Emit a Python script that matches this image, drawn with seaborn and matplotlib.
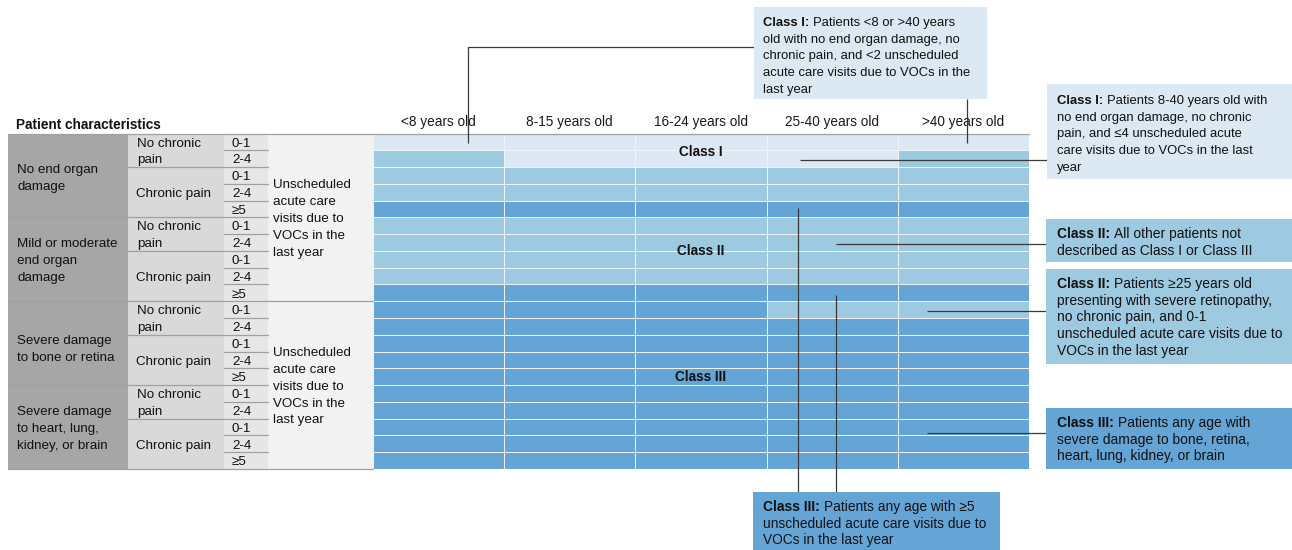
import numpy as np
import pandas as pd
import matplotlib
matplotlib.use("Agg")
import matplotlib.pyplot as plt
from matplotlib.colors import ListedColormap
from matplotlib.patches import Rectangle
import seaborn as sns

# ---------------- data ----------------
age_groups = ['<8 years old', '8-15 years old', '16-24 years old', '25-40 years old', '>40 years old']
organ_groups = ['No end organ\ndamage', 'Mild or moderate\nend organ\ndamage',
                'Severe damage\nto bone or retina', 'Severe damage\nto heart, lung,\nkidney, or brain']
pain_groups = ['No chronic\npain', 'Chronic pain']
visit_counts_no_pain = ['0-1', '2-4']
visit_counts_pain = ['0-1', '2-4', '\u22655']
visits_label = 'Unscheduled\nacute care\nvisits due to\nVOCs in the\nlast year'
class_names = ['Class I', 'Class II', 'Class III']

# risk class (1, 2, 3) per row (organ x pain x visits) and per age group
class_matrix = [
    [1, 1, 1, 1, 1],
    [2, 1, 1, 1, 2],
    [2, 2, 2, 2, 2],
    [2, 2, 2, 2, 2],
    [3, 3, 3, 3, 3],
    [2, 2, 2, 2, 2],
    [2, 2, 2, 2, 2],
    [2, 2, 2, 2, 2],
    [2, 2, 2, 2, 2],
    [3, 3, 3, 3, 3],
    [3, 3, 3, 2, 2],
    [3, 3, 3, 3, 3],
    [3, 3, 3, 3, 3],
    [3, 3, 3, 3, 3],
    [3, 3, 3, 3, 3],
    [3, 3, 3, 3, 3],
    [3, 3, 3, 3, 3],
    [3, 3, 3, 3, 3],
    [3, 3, 3, 3, 3],
    [3, 3, 3, 3, 3],
]

note_bold = ['Class I:', 'Class I:', 'Class II:', 'Class II:', 'Class III:', 'Class III:']
note_lines = [
    ['Patients <8 or >40 years', 'old with no end organ damage, no', 'chronic pain, and <2 unscheduled',
     'acute care visits due to VOCs in the', 'last year'],
    ['Patients 8-40 years old with', 'no end organ damage, no chronic', 'pain, and \u22644 unscheduled acute',
     'care visits due to VOCs in the last', 'year'],
    ['All other patients not', 'described as Class I or Class III'],
    ['Patients \u226525 years old', 'presenting with severe retinopathy,', 'no chronic pain, and 0-1',
     'unscheduled acute care visits due to', 'VOCs in the last year'],
    ['Patients any age with', 'severe damage to bone, retina,', 'heart, lung, kidney, or brain'],
    ['Patients any age with \u22655', 'unscheduled acute care visits due to', 'VOCs in the last year'],
]

# ---------------- style ----------------
sns.set_theme(style='white')
plt.rcParams['font.family'] = ['Liberation Sans', 'DejaVu Sans']

W, H = 1292, 550
fig = plt.figure(figsize=(W / 100, H / 100), dpi=100)
fig.patch.set_facecolor('white')

C1, C2, C3 = '#dce8f4', '#9dc9e1', '#64a5d6'
DARK, MID, CNT, LIGHT = '#a6a6a6', '#d9d9d9', '#e6e6e6', '#f2f2f2'
SEP = '#a0a0a0'
LEAD = '#3a3a3a'
TXT = '#111111'
LSP = 16.8  # line pitch in pixels

# grid geometry (pixels)
gx0, gx1, gy0, gy1 = 373, 1029, 133.5, 469
nrows = len(class_matrix)
rh = (gy1 - gy0) / nrows

ax_h = fig.add_axes([gx0 / W, 1 - gy1 / H, (gx1 - gx0) / W, (gy1 - gy0) / H])
df = pd.DataFrame(class_matrix, columns=age_groups)
sns.heatmap(df, ax=ax_h, cmap=ListedColormap([C1, C2, C3]), vmin=0.5, vmax=3.5,
            cbar=False, linewidths=0.7, linecolor='#eef3f8', yticklabels=False)
ax_h.xaxis.tick_top()
ax_h.set_xticklabels(age_groups, rotation=0, fontsize=9.8, color='#1a1a1a')
ax_h.tick_params(axis='x', length=0, pad=3)
ax_h.set_xlabel('')
ax_h.set_ylabel('')
for s in ax_h.spines.values():
    s.set_visible(False)

# class labels inside grid
for name, yrow in zip(class_names, [1.1, 7.0, 14.5]):
    ax_h.text(2.5, yrow, name, ha='center', va='center', fontsize=9.8,
              fontweight='bold', color=TXT)

# ---------------- overlay axes in pixel coordinates ----------------
ax = fig.add_axes([0, 0, 1, 1])
ax.set_xlim(0, W)
ax.set_ylim(H, 0)
ax.axis('off')
ax.patch.set_alpha(0)

def ypix(r):
    return gy0 + r * rh

def mtext(x, yc, label, fs, **kw):
    """multi-line text with a fixed pixel line pitch, centred on yc"""
    lines = label.split('\n')
    n = len(lines)
    for i, ln in enumerate(lines):
        y = yc + (i - (n - 1) / 2) * LSP
        ax.text(x, y + 4.7, ln, ha='left', va='baseline', fontsize=fs, color=TXT, **kw)

# left table backgrounds
ax.add_patch(Rectangle((8, gy0), 120, gy1 - gy0, fc=DARK, ec='none'))
ax.add_patch(Rectangle((128, gy0), 96, gy1 - gy0, fc=MID, ec='none'))
ax.add_patch(Rectangle((224, gy0), 43.5, gy1 - gy0, fc=CNT, ec='none'))
ax.add_patch(Rectangle((267.5, gy0), gx0 - 267.5, gy1 - gy0, fc=LIGHT, ec='none'))

TS = 9.6
organ_y = [176.5, 259.5, 348, 427]
for g, (lab, yc) in enumerate(zip(organ_groups, organ_y)):
    mtext(17, yc, lab, TS)
    r0 = g * 5
    mtext(137, ypix(r0 + 1), pain_groups[0], TS)
    mtext(136, ypix(r0 + 3.5), pain_groups[1], TS)
    counts = visit_counts_no_pain + visit_counts_pain
    for k, c in enumerate(counts):
        mtext(232, ypix(r0 + k + 0.5), c, TS)
        if k not in (0, 2):
            ax.plot([224, 267.5], [ypix(r0 + k)] * 2, color=SEP, lw=0.9)
    ax.plot([128, 267.5], [ypix(r0 + 2)] * 2, color=SEP, lw=0.9)
    if g > 0:
        xend = gx0 if g == 2 else 267.5
        ax.plot([8, xend], [ypix(r0)] * 2, color=SEP, lw=0.9)

for yc in [ypix(5), ypix(15)]:
    mtext(273, yc, visits_label, TS)

ax.plot([8, gx1], [gy0, gy0], color=SEP, lw=0.9)
ax.plot([8, gx0], [gy1, gy1], color=SEP, lw=0.9)
ax.text(16, 125, 'Patient characteristics', ha='left', va='center', fontsize=9.8,
        fontweight='bold', color=TXT)

# ---------------- leader lines ----------------
leaders = [
    ([468, 468, 754], [143, 47, 47]),
    ([967, 967], [99, 143]),
    ([800, 1047], [160, 160]),
    ([836, 1047], [244, 244]),
    ([927, 1047], [311, 311]),
    ([927, 1047], [433, 433]),
    ([798, 798], [208, 492]),
    ([836, 836], [295, 492]),
]
for xs, ys in leaders:
    ax.plot(xs, ys, color=LEAD, lw=0.9, solid_capstyle='butt')

# ---------------- note boxes ----------------
boxes = [  # x0, y0, x1, y1, colour, text x, first line centre y, font size
    (754, 7, 987, 99, C1, 763, 21, 9.4),
    (1047, 84, 1292, 179, C1, 1057, 99, 9.4),
    (1046, 219, 1292, 262, C2, 1057, 233, 10),
    (1046, 269, 1292, 364, C2, 1057, 283, 10),
    (1046, 408, 1292, 469, C3, 1057, 422, 10),
    (753, 492, 1000, 550, C3, 763, 506, 9.9),
]
fig.canvas.draw()
renderer = fig.canvas.get_renderer()
for (x0, y0, x1, y1, col, tx, ty, fs), bold, lines in zip(boxes, note_bold, note_lines):
    ax.add_patch(Rectangle((x0, y0), x1 - x0, y1 - y0, fc=col, ec='none', zorder=3))
    base = ty + 4.8
    t = ax.text(tx, base, bold, ha='left', va='baseline', fontsize=fs, fontweight='bold',
                color=TXT, zorder=4)
    bb = t.get_window_extent(renderer)
    xr = ax.transData.inverted().transform((bb.x1, bb.y0))[0]
    ax.text(xr + fs * 0.38, base, lines[0], ha='left', va='baseline', fontsize=fs,
            color=TXT, zorder=4)
    for i, ln in enumerate(lines[1:], start=1):
        ax.text(tx, base + LSP * i, ln, ha='left', va='baseline', fontsize=fs,
                color=TXT, zorder=4)

fig.savefig('out.png', dpi=100, facecolor='white')
